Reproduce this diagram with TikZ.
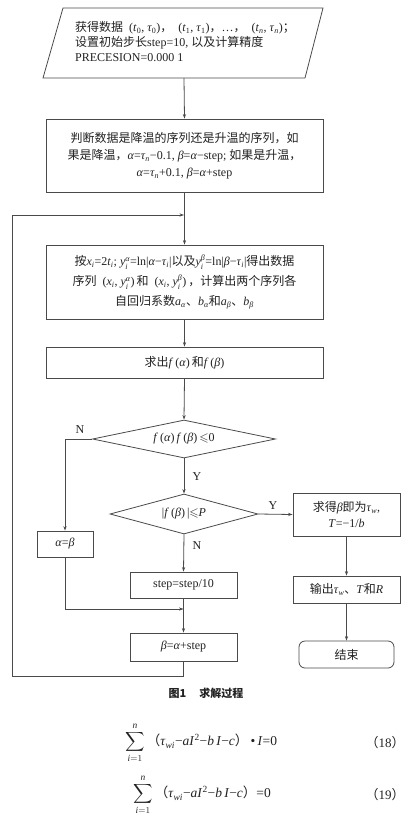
\documentclass[tikz,border=0pt]{standalone}
\usepackage{amsmath,amssymb}
\usepackage{fontspec}
\setmainfont{Liberation Serif}
\newfontfamily\cjk{Noto Sans CJK SC}
\usetikzlibrary{shapes.geometric,arrows.meta}
\newcommand\xal{\textit{α}}
\newcommand\xbe{\textit{β}}
\newcommand\xta{\textit{τ}}
\newcommand\sbs[1]{\textsubscript{\textit{#1}}}
\newcommand\sbn[1]{\textsubscript{#1}}
\newcommand\ya[1]{$\textit{y}^{\textit{#1}}_{\textit{i}}$}
\newcommand\zh[1]{{\cjk #1}}
\definecolor{ink}{HTML}{222222}
\definecolor{linec}{HTML}{4A4A4A}
\tikzset{
  box/.style={draw=linec, line width=0.8pt, rectangle, align=center, inner sep=2pt, text=ink, font=\fontsize{12}{17}\selectfont},
  dia/.style={draw=linec, line width=0.8pt, diamond, inner sep=0pt, text=ink, font=\fontsize{12}{15}\selectfont},
  arr/.style={draw=linec, line width=0.8pt, -{Stealth[length=4.5pt,width=3.2pt]}},
  ln/.style={draw=linec, line width=0.8pt},
  lab/.style={text=ink, font=\fontsize{12}{14}\selectfont, inner sep=0pt},
  eqn/.style={anchor=west, text=ink, font=\fontsize{13.5}{16}\selectfont, inner sep=0pt},
}
\begin{document}
\begin{tikzpicture}[x=1pt,y=-1pt]
\useasboundingbox (0,0) rectangle (412,823);
\fill[white] (0,0) rectangle (412,823);
% box 1 parallelogram
\coordinate (p1) at (63,8);
\coordinate (p2) at (323,8);
\coordinate (p3) at (305,78);
\coordinate (p4) at (43,78);
\draw[ln] (p1) -- (p2) -- (p3) -- (p4) -- cycle;
\coordinate (b1s) at (184,78);
\node[anchor=west, align=left, text=ink, font=\fontsize{12}{15}\selectfont, inner sep=0pt] (b1) at (75,42)
 {\zh{获得数据}\enspace(\textit{t}\sbn{0}, \xta\sbn{0})\zh{，}\enspace(\textit{t}\sbn{1}, \xta\sbn{1})\zh{，}…\zh{，}\enspace(\textit{t}\sbs{n}, \xta\sbs{n})\zh{；}\\
  \zh{设置初始步长}step=10, \zh{以及计算精度}\\
  PRECESION=0.000 1};
% box 2
\node[box, minimum width=277pt, minimum height=73pt] (b2) at (184.5,155.5)
 {\zh{判断数据是降温的序列还是升温的序列，如}\\
  \zh{果是降温，}\xal=\xta\sbs{n}−0.1, \xbe=\xal−step; \zh{如果是升温，}\\
  \xal=\xta\sbs{n}+0.1, \xbe=\xal+step};
% box 3
\node[box, minimum width=277pt, minimum height=74pt, font=\fontsize{12}{20}\selectfont] (b3) at (184.5,282)
 {\zh{按}\textit{x}\sbs{i}=2\textit{t}\sbs{i}; \ya{α}=ln|\xal−\xta\sbs{i}|\zh{以及}\ya{β}=ln|\xbe−\xta\sbs{i}|\zh{得出数据}\\
  \zh{序列}\enspace(\textit{x}\sbs{i}, \ya{α})\,\zh{和}\enspace(\textit{x}\sbs{i}, \ya{β})\,\zh{，计算出两个序列各}\\
  \zh{自回归系数}\textit{a}\textsubscript{\xal}\zh{、}\textit{b}\textsubscript{\xal}\zh{和}\textit{a}\textsubscript{\xbe}\zh{、}\textit{b}\textsubscript{\xbe}};
% box 4
\node[box, minimum width=277pt, minimum height=31pt] (b4) at (184.5,362.5)
 {\zh{求出}\textit{f}\,(\xal)\,\zh{和}\textit{f}\,(\xbe)};
% diamonds
\node[dia, shape aspect=4.8, minimum width=183pt, minimum height=38pt] (d1) at (184,439)
 {\textit{f}\,(\xal)\,\textit{f}\,(\xbe)\,$\leqslant$0};
\node[dia, shape aspect=3.7, minimum width=148pt, minimum height=40pt] (d2) at (184,514)
 {|\textit{f}\,(\xbe)\,|$\leqslant$\textit{P}};
% right branch
\node[box, minimum width=107pt, minimum height=43pt, font=\fontsize{12}{16}\selectfont] (b5) at (346.5,514.5)
 {\zh{求得}\xbe\zh{即为}\xta\sbs{w},\\ \textit{T}=−1/\textit{b}};
\node[box, minimum width=107pt, minimum height=27pt] (b6) at (346.5,589.5)
 {\zh{输出}\xta\sbs{w}\zh{、}\textit{T}\zh{和}\textit{R}};
\node[box, rounded corners=6pt, minimum width=95pt, minimum height=27pt] (b7) at (346.5,654.5)
 {\zh{结束}};
% middle
\node[box, minimum width=107pt, minimum height=26pt] (b8) at (183.5,585)
 {step=step/10};
\node[box, minimum width=107pt, minimum height=28pt] (b9) at (183.5,647)
 {\xbe=\xal+step};
% left
\node[box, minimum width=56pt, minimum height=26pt] (b10) at (65,544)
 {\xal=\xbe};
% connectors
\draw[arr] (b1s) -- (b2.north);
\draw[arr] (b2.south) -- (b3.north);
\draw[arr] (b3.south) -- (b4.north);
\draw[arr] (b4.south) -- (d1.north);
\draw[arr] (d1.south) -- (d2.north);
\coordinate (c1) at (65,439);
\draw[arr] (d1.west) -- (c1) -- (b10.north);
\draw[arr] (d2.east) -- (b5.west);
\draw[arr] (d2.south) -- (b8.north);
\draw[arr] (b8.south) -- (b9.north);
\coordinate (c2) at (65,609);
\coordinate (c3) at (183.5,609);
\draw[arr] (b10.south) -- (c2) -- (c3);
\coordinate (c4) at (183.5,676);
\coordinate (c5) at (12,676);
\coordinate (c6) at (12,215);
\coordinate (c7) at (184,215);
\draw[arr] (b9.south) -- (c4) -- (c5) -- (c6) -- (c7);
\draw[arr] (b5.south) -- (b6.north);
\draw[arr] (b6.south) -- (b7.north);
% labels
\node[lab] (lN1) at (80,430) {N};
\node[lab] (lY1) at (197,477) {Y};
\node[lab] (lY2) at (273,506) {Y};
\node[lab] (lN2) at (197,546) {N};
% caption
\node[text=ink, font=\fontsize{11}{14}\selectfont\cjk\bfseries] (cap) at (206,693) {图1\hspace{1.2em}求解过程};
% equations
\node[eqn] (eq1) at (125,743)
 {$\displaystyle\sum_{\textit{i}=1}^{\textit{n}}$\,\zh{（}\xta\sbs{wi}−\textit{aI}\textsuperscript{2}−\textit{b\,I}−\textit{c}\zh{）}\,•\,\textit{I}=0};
\node[eqn] (eq2) at (133,795)
 {$\displaystyle\sum_{\textit{i}=1}^{\textit{n}}$\,\zh{（}\xta\sbs{wi}−\textit{aI}\textsuperscript{2}−\textit{b\,I}−\textit{c}\zh{）}=0};
\node[text=ink, font=\fontsize{13}{15}\selectfont] (n1) at (385,743) {\zh{（}18\zh{）}};
\node[text=ink, font=\fontsize{13}{15}\selectfont] (n2) at (385,795) {\zh{（}19\zh{）}};
\end{tikzpicture}
\end{document}
